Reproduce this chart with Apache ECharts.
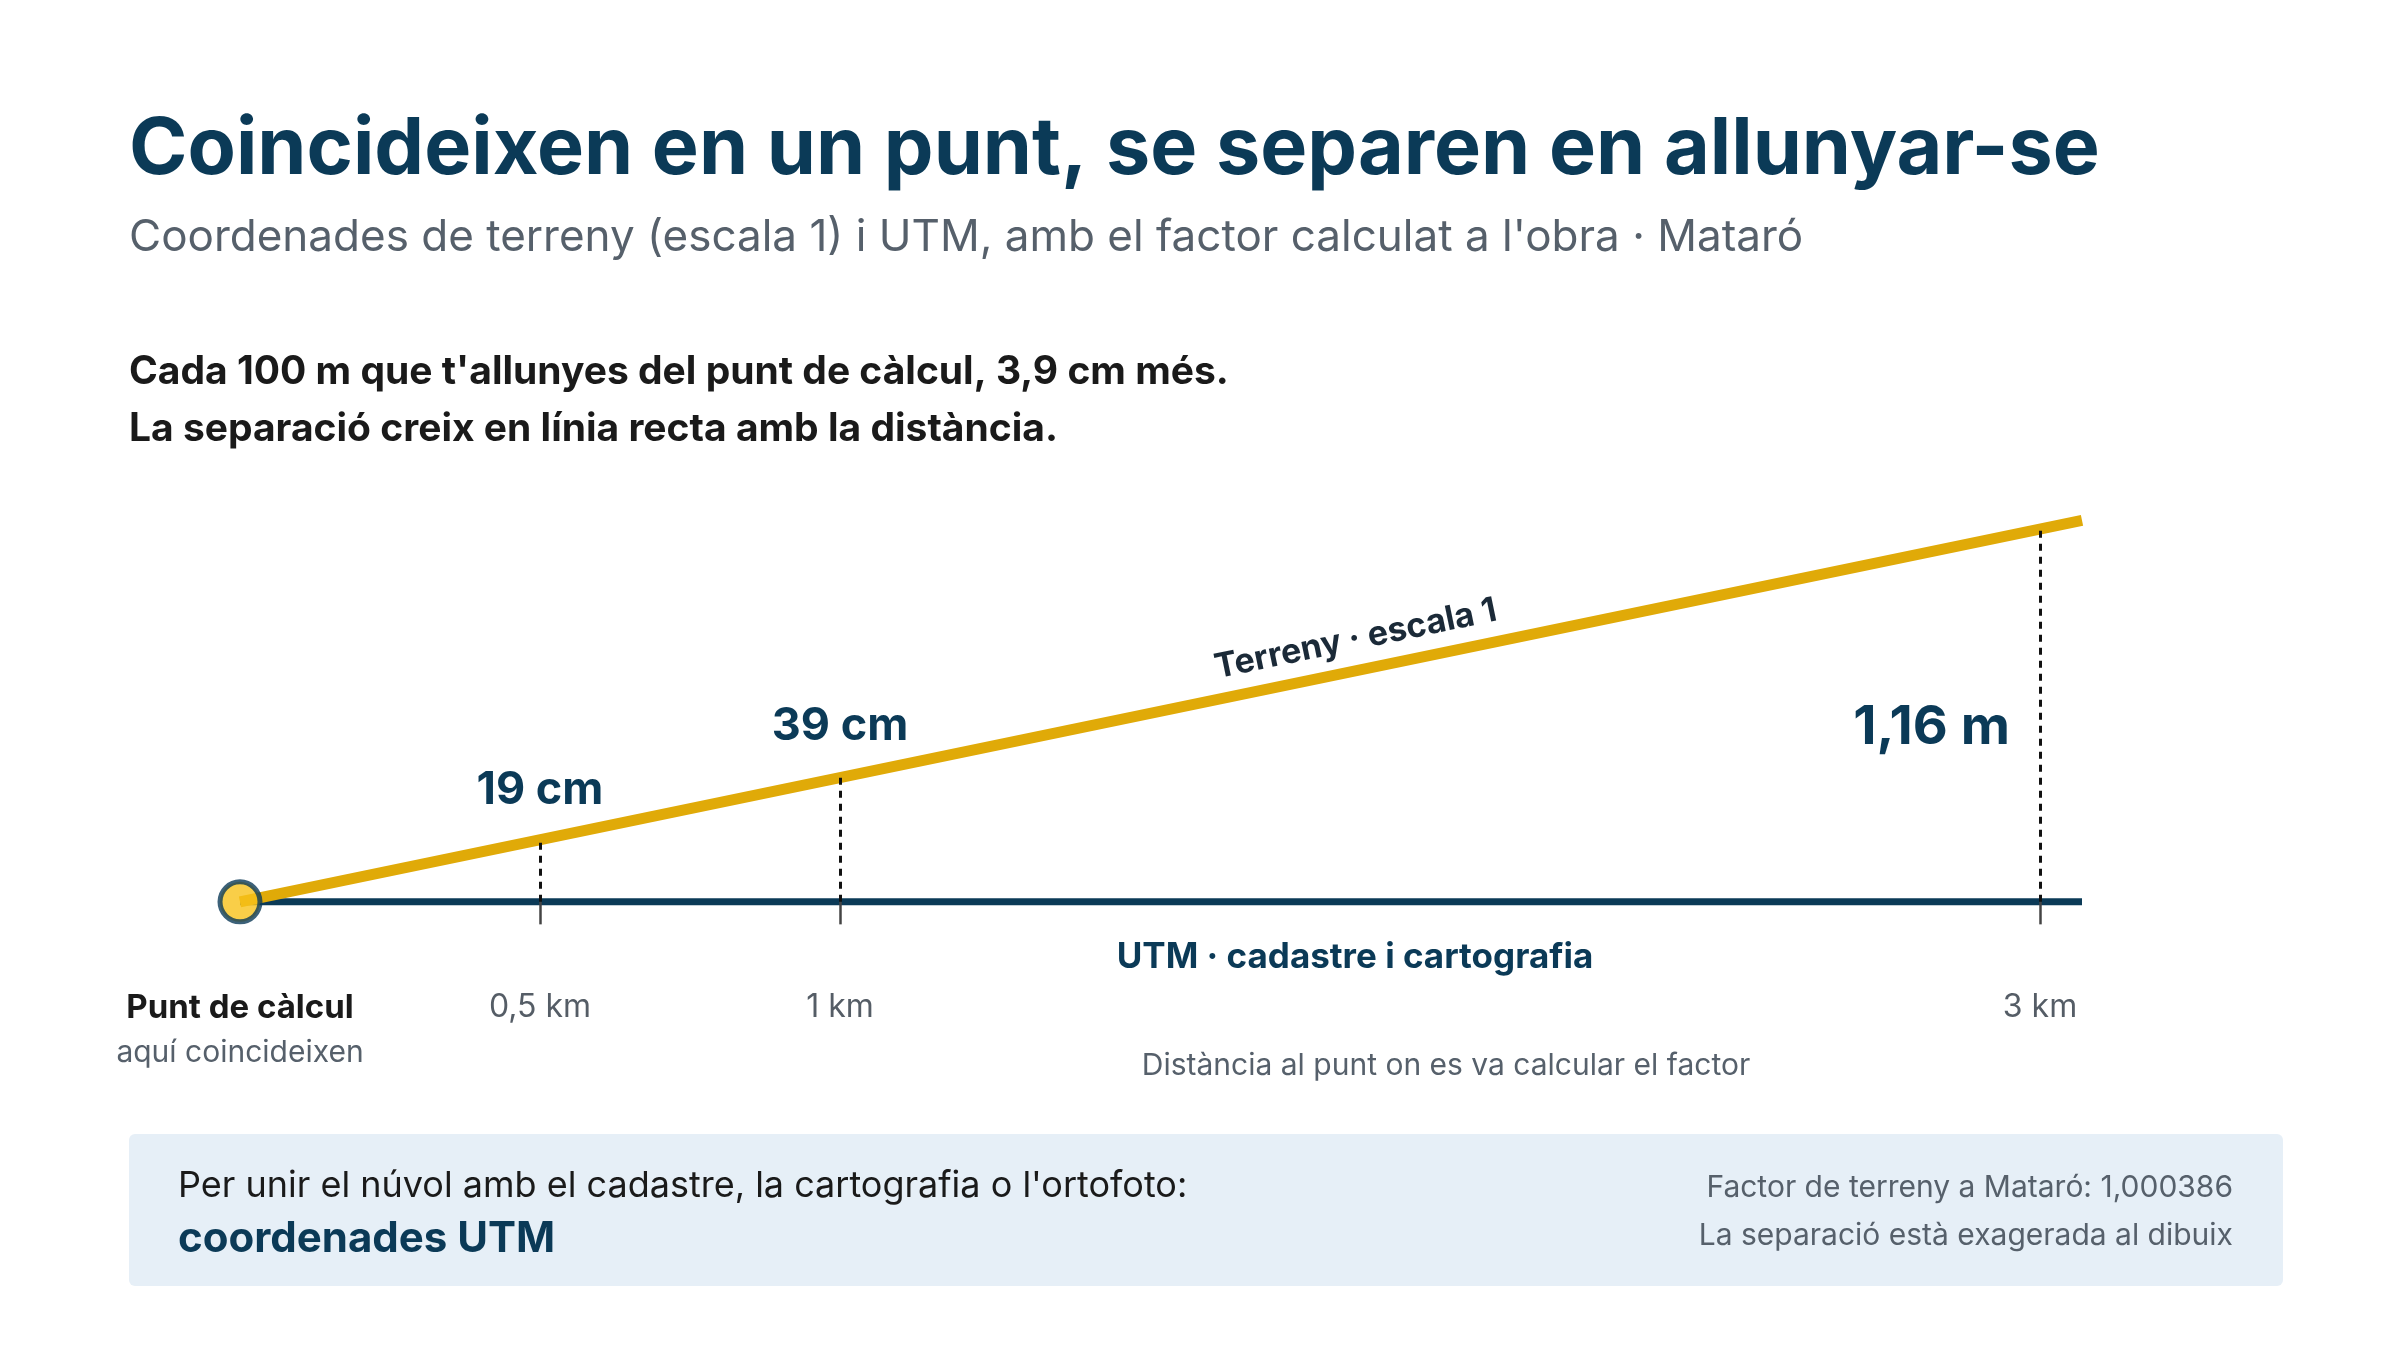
<!DOCTYPE html>
<html><head><meta charset="utf-8">
<script src="https://cdn.jsdelivr.net/npm/echarts@6/dist/echarts.min.js"></script>
<style>html,body{margin:0;background:#fff}#c{width:2400px;height:1350px}</style>
</head><body><div id="c"></div>
<script>
const distKm = [0.5, 1, 3];
const gapCm = [19, 39, 116];
const gapLabels = ['19 cm', '39 cm', '1,16 m'];
const tickLabels = ['0,5 km', '1 km', '3 km'];
const terrainLine = [[0, 0], [3.07, 118.7]];
const utmLine = [[0, 0], [3.07, 0]];

const NAVY = '#0b3a57', GOLD = '#e0aa08', FONT = 'Inter, "Noto Sans", sans-serif';
const chart = echarts.init(document.getElementById('c'));
chart.setOption({
  animation: false,
  grid: {left: 240, right: 318, top: 452, bottom: 416},
  xAxis: {type: 'value', min: 0, max: 3.07, show: false},
  yAxis: {type: 'value', min: -10, max: 140, show: false},
  series: [
    {type: 'line', data: utmLine, symbol: 'none', lineStyle: {color: NAVY, width: 7}, z: 2},
    {type: 'line', data: terrainLine, symbol: 'none', lineStyle: {color: GOLD, width: 11}, z: 3,
     markLine: {silent: true, symbol: 'none', label: {show: false},
       lineStyle: {color: '#111', type: [7, 6], width: 3},
       data: distKm.map((d, i) => [{coord: [d, 0]}, {coord: [d, gapCm[i]]}]).concat(
         distKm.map(d => [{coord: [d, -7], lineStyle: {type: 'solid', color: '#444', width: 2.5}}, {coord: [d, 0]}]))}},
    {type: 'scatter', data: [[0, 0]], symbolSize: 40, z: 5,
     itemStyle: {color: '#f7c21a', borderColor: NAVY, borderWidth: 5}}
  ]
});
const P = (x, y) => chart.convertToPixel({gridIndex: 0}, [x, y]);
const g = [];
const T = (x, y, text, o) => g.push({type: 'text', x, y, z: 10, style: Object.assign({text, fontFamily: FONT, textVerticalAlign: 'middle'}, o)});
T(129, 150, 'Coincideixen en un punt, se separen en allunyar-se', {fontSize: 79, fontWeight: 'bold', fill: NAVY});
T(129, 238, "Coordenades de terreny (escala 1) i UTM, amb el factor calculat a l'obra · Mataró", {fontSize: 44, fill: '#56606b'});
T(129, 372, "Cada 100 m que t'allunyes del punt de càlcul, 3,9 cm més.", {fontSize: 39, fontWeight: 'bold', fill: '#1a1a1a'});
T(129, 429, 'La separació creix en línia recta amb la distància.', {fontSize: 39, fontWeight: 'bold', fill: '#1a1a1a'});
distKm.forEach((d, i) => {
  const p = P(d, gapCm[i]), b = P(d, 0);
  if (i < 2) T(p[0], p[1] - 50, gapLabels[i], {fontSize: 45, fontWeight: 'bold', fill: NAVY, textAlign: 'center'});
  else T(p[0] - 30, (p[1] + b[1]) / 2 + 12, gapLabels[i], {fontSize: 54, fontWeight: 'bold', fill: NAVY, textAlign: 'right'});
  T(b[0], b[1] + 106, tickLabels[i], {fontSize: 32, fill: '#555d66', textAlign: 'center'});
});
const o = P(0, 0);
T(o[0], o[1] + 106, 'Punt de càlcul', {fontSize: 33, fontWeight: 'bold', fill: '#1a1a1a', textAlign: 'center'});
T(o[0], o[1] + 151, 'aquí coincideixen', {fontSize: 30, fill: '#56606b', textAlign: 'center'});
const a = P(0, 0), e = P(3.07, 118.7);
const ang = Math.atan2(a[1] - e[1], e[0] - a[0]);
const m = P(1.87, 118.7 * 1.87 / 3.07);
g.push({type: 'text', x: m[0], y: m[1], rotation: ang, z: 10,
  style: {text: 'Terreny · escala 1', x: 0, y: -14, fontFamily: FONT, fontSize: 34, fontWeight: 'bold', fill: '#1b2a38', textAlign: 'center', textVerticalAlign: 'bottom'}});
T(1355, 957, 'UTM · cadastre i cartografia', {fontSize: 35, fontWeight: 'bold', fill: NAVY, textAlign: 'center'});
T(1446, 1066, 'Distància al punt on es va calcular el factor', {fontSize: 30, fill: '#56606b', textAlign: 'center'});
g.push({type: 'rect', shape: {x: 129, y: 1134, width: 2154, height: 152, r: 6}, style: {fill: '#e6eff7'}, z: 1});
T(178, 1186, "Per unir el núvol amb el cadastre, la cartografia o l'ortofoto:", {fontSize: 36, fill: '#1a1a1a'});
T(178, 1239, 'coordenades UTM', {fontSize: 42, fontWeight: 'bold', fill: NAVY});
T(2233, 1188, 'Factor de terreny a Mataró: 1,000386', {fontSize: 30, fill: '#56606b', textAlign: 'right'});
T(2233, 1236, 'La separació està exagerada al dibuix', {fontSize: 30, fill: '#56606b', textAlign: 'right'});
chart.setOption({graphic: g});
</script></body></html>
